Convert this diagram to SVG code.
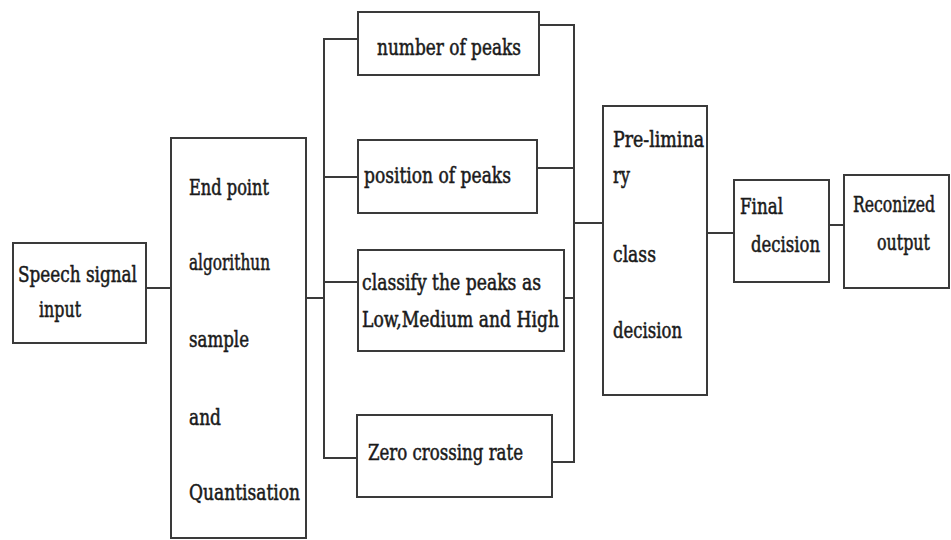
<svg xmlns="http://www.w3.org/2000/svg" width="951" height="540" viewBox="0 0 951 540">
<style>
.box{fill:#fff;stroke:#3a3a3a;stroke-width:2}
.ln{fill:none;stroke:#3a3a3a;stroke-width:2}
.t{font-family:'DejaVu Serif Condensed','DejaVu Serif',serif;font-stretch:condensed;font-size:22px;fill:#1a1a1a;stroke:#1a1a1a;stroke-width:0.5}
</style>
<rect width="951" height="540" fill="#fff"/>
<g id="connectors">
<line class="ln" x1="146" y1="288" x2="171" y2="288"/>
<line class="ln" x1="306" y1="298" x2="325" y2="298"/>
<polyline class="ln" points="358,39 324,39 324,458 357,458"/>
<line class="ln" x1="324" y1="177" x2="358" y2="177"/>
<line class="ln" x1="324" y1="282" x2="358" y2="282"/>
<polyline class="ln" points="539,25 574,25 574,462 552,462"/>
<line class="ln" x1="537" y1="168" x2="574" y2="168"/>
<line class="ln" x1="564" y1="298" x2="574" y2="298"/>
<line class="ln" x1="574" y1="223" x2="603" y2="223"/>
<line class="ln" x1="707" y1="233" x2="734" y2="233"/>
<line class="ln" x1="829" y1="225" x2="844" y2="225"/>
</g>
<g id="speech">
<rect class="box" x="13" y="243" width="133" height="100"/>
<text class="t" x="18" y="282" textLength="119" lengthAdjust="spacingAndGlyphs">Speech signal</text>
<text class="t" x="39" y="317" textLength="42" lengthAdjust="spacingAndGlyphs">input</text>
</g>
<g id="endpoint">
<rect class="box" x="171" y="138" width="135" height="400"/>
<text class="t" x="189" y="195" textLength="80" lengthAdjust="spacingAndGlyphs">End point</text>
<text class="t" x="189" y="270" textLength="81" lengthAdjust="spacingAndGlyphs">algorithun</text>
<text class="t" x="189" y="347" textLength="60" lengthAdjust="spacingAndGlyphs">sample</text>
<text class="t" x="189" y="425" textLength="32" lengthAdjust="spacingAndGlyphs">and</text>
<text class="t" x="189" y="500" textLength="111" lengthAdjust="spacingAndGlyphs">Quantisation</text>
</g>
<g id="numpeaks">
<rect class="box" x="358" y="12" width="181" height="63"/>
<text class="t" x="377" y="55" textLength="144" lengthAdjust="spacingAndGlyphs">number of peaks</text>
</g>
<g id="pospeaks">
<rect class="box" x="358" y="140" width="179" height="73"/>
<text class="t" x="364" y="183" textLength="147" lengthAdjust="spacingAndGlyphs">position of peaks</text>
</g>
<g id="classify">
<rect class="box" x="358" y="250" width="206" height="101"/>
<text class="t" x="362" y="290" textLength="179" lengthAdjust="spacingAndGlyphs">classify the peaks as</text>
<text class="t" x="362" y="327" textLength="197" lengthAdjust="spacingAndGlyphs">Low,Medium and High</text>
</g>
<g id="zero">
<rect class="box" x="357" y="415" width="195" height="82"/>
<text class="t" x="368" y="460" textLength="155" lengthAdjust="spacingAndGlyphs">Zero crossing rate</text>
</g>
<g id="prelim">
<rect class="box" x="603" y="106" width="104" height="289"/>
<text class="t" x="613" y="147" textLength="91" lengthAdjust="spacingAndGlyphs">Pre-limina</text>
<text class="t" x="613" y="183" textLength="17" lengthAdjust="spacingAndGlyphs">ry</text>
<text class="t" x="613" y="262" textLength="43" lengthAdjust="spacingAndGlyphs">class</text>
<text class="t" x="613" y="338" textLength="69" lengthAdjust="spacingAndGlyphs">decision</text>
</g>
<g id="final">
<rect class="box" x="734" y="180" width="95" height="102"/>
<text class="t" x="740" y="214" textLength="43" lengthAdjust="spacingAndGlyphs">Final</text>
<text class="t" x="751" y="252" textLength="69" lengthAdjust="spacingAndGlyphs">decision</text>
</g>
<g id="output">
<rect class="box" x="844" y="175" width="105" height="113"/>
<text class="t" x="853" y="212" font-size="21" textLength="82" lengthAdjust="spacingAndGlyphs">Reconized</text>
<text class="t" x="877" y="250" textLength="53" lengthAdjust="spacingAndGlyphs">output</text>
</g>
</svg>
